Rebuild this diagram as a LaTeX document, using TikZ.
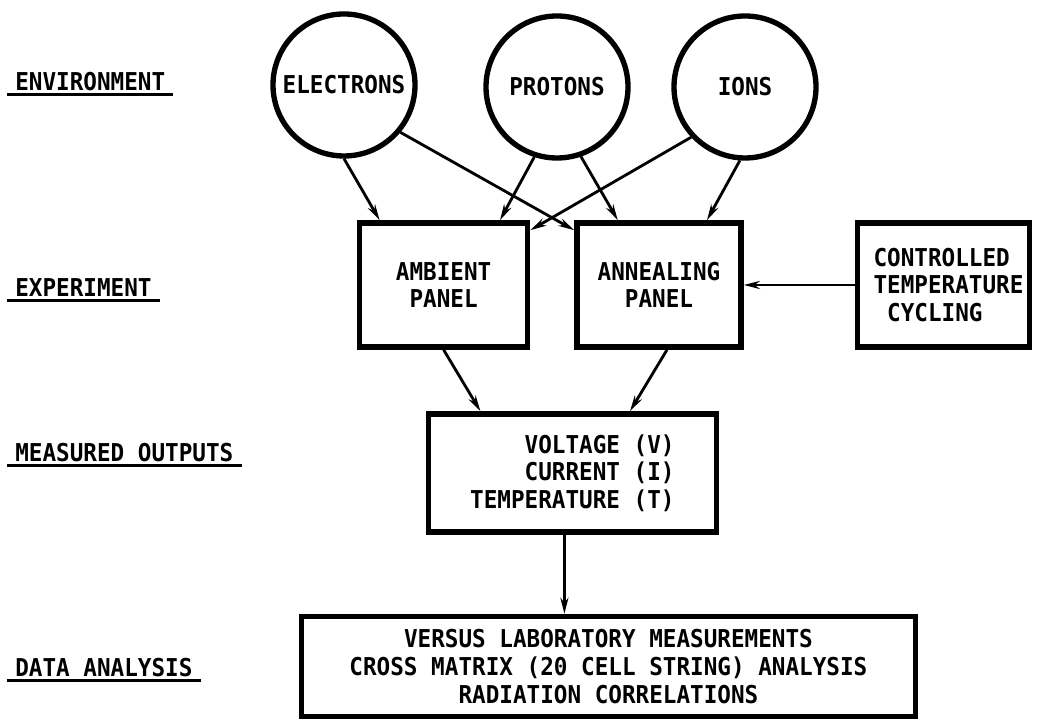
\documentclass[tikz,border=0pt]{standalone}
\usepackage{fontspec}
\setmainfont{DejaVu Sans Mono}[FakeStretch=0.92]
\usetikzlibrary{arrows.meta,positioning,calc}

\begin{document}
\begin{tikzpicture}[
  every node/.style={font=\fontsize{17.5}{19.6}\selectfont\bfseries},
  source/.style={draw, circle, line width=3.8pt, minimum size=3.55cm, inner sep=0pt},
  panel/.style={draw, line width=4pt, align=center},
  flow/.style={-{Stealth[length=0.4cm,width=0.2cm]}, line width=2pt},
  stage/.style={anchor=base west, inner xsep=0.2cm, inner ysep=2pt},
  uline/.style={line width=2.2pt}
]
  \useasboundingbox (0,0) rectangle (25.925,18.075);

  %--- Stage labels ---
  \node[stage] (lenv) at (0.175,15.8) {ENVIRONMENT};
  \node[stage] (lexp) at (0.175,10.65) {EXPERIMENT};
  \node[stage] (lout) at (0.175,6.525) {MEASURED OUTPUTS};
  \node[stage] (lana) at (0.175,1.15) {DATA ANALYSIS};
  \draw[uline] (lenv.south west) -- (lenv.south east);
  \draw[uline] (lexp.south west) -- (lexp.south east);
  \draw[uline] (lout.south west) -- (lout.south east);
  \draw[uline] (lana.south west) -- (lana.south east);

  %--- Environment ---
  \node[source] (elec) at (8.6,15.95) {ELECTRONS};
  \node[source] (prot) at (13.925,15.9) {PROTONS};
  \node[source] (ions) at (18.625,15.9) {IONS};

  %--- Experiment ---
  \node[panel, minimum width=4.2cm, minimum height=3.1cm] (amb) at (11.09,10.95) {AMBIENT\\PANEL};
  \node[panel, minimum width=4.1cm, minimum height=3.1cm] (anneal) at (16.475,10.95) {ANNEALING\\PANEL};
  \node[panel, align=left, text width=3.5cm, inner xsep=0.4cm, minimum height=3.1cm] (ctrl) at (23.59,10.95) {CONTROLLED\\TEMPERATURE\\\hspace*{0.34cm}CYCLING};

  %--- Outputs and analysis ---
  \node[panel, align=right, minimum width=7.2cm, minimum height=2.95cm] (meas) at (14.31,6.25) {VOLTAGE (V)\\CURRENT (I)\\TEMPERATURE (T)};
  \node[panel, minimum width=15.35cm, minimum height=2.5cm] (data) at (15.21,1.41) {VERSUS LABORATORY MEASUREMENTS\\CROSS MATRIX (20 CELL STRING) ANALYSIS\\RADIATION CORRELATIONS};

  % Arrows sources -> panels
  \draw[flow] (elec.270) -- ([xshift=-1.6cm]amb.north);
  \draw[flow] (prot.252) -- ([xshift=1.41cm]amb.north);
  \draw[flow] (elec.-40) -- ([yshift=-0.25cm]anneal.north west);
  \draw[flow] (ions.223) -- ([yshift=-0.25cm]amb.north east);
  \draw[flow] (prot.-71) -- ([xshift=-1.03cm]anneal.north);
  \draw[flow] (ions.266) -- ([xshift=1.2cm]anneal.north);
  \draw[flow] (ctrl.west) -- (anneal.east);

  % Panels -> outputs -> analysis
  \draw[flow] (amb.south) -- ([xshift=-2.3cm]meas.north);
  \draw[flow] ([xshift=0.2cm]anneal.south) -- ([xshift=1.44cm]meas.north);
  \draw[flow] ([xshift=-0.2cm]meas.south) -- ([xshift=-0.2cm]meas.south |- data.north);
\end{tikzpicture}
\end{document}
